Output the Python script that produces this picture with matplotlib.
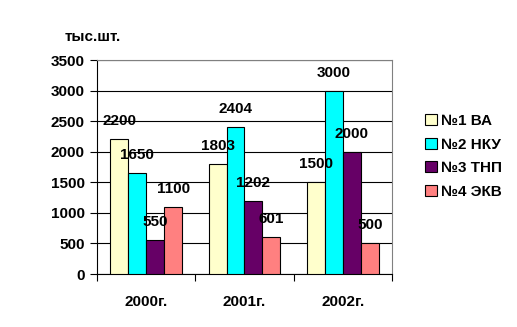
import numpy as np
import matplotlib.pyplot as plt

years = ['2000г.', '2001г.', '2002г.']
series = ['№1 ВА', '№2 НКУ', '№3 ТНП', '№4 ЭКВ']
va = [2200, 1803, 1500]
nku = [1650, 2404, 3000]
tnp = [550, 1202, 2000]
ekv = [1100, 601, 500]
colors = ['#FFFFCC', '#00FFFF', '#660066', '#FF8080']

plt.rcParams['font.family'] = ['Liberation Sans', 'DejaVu Sans']
plt.rcParams['font.weight'] = 'bold'
fs = 11

fig = plt.figure(figsize=(5.17, 3.27), dpi=100)
ax = fig.add_axes([97 / 517, 1 - 274 / 327, 295 / 517, 214 / 327])

x = np.arange(len(years))
w = 0.183
for i, (vals, name) in enumerate(zip([va, nku, tnp, ekv], series)):
    pos = x + (i - 1.5) * w
    ax.bar(pos, vals, w, color=colors[i], edgecolor='black', linewidth=0.8,
           label=name, zorder=3)
    for p, v in zip(pos, vals):
        ax.annotate(str(v), (p, v), xytext=(0, 18), textcoords='offset pixels',
                    ha='center', va='center', fontsize=fs, fontweight='bold',
                    zorder=5)

ax.set_xlim(-0.5, 2.5)
ax.set_ylim(0, 3500)
ax.set_yticks(range(0, 3501, 500))
ax.yaxis.grid(True, color='black', linewidth=0.8, zorder=0)
ax.set_xticks(x)
ax.set_xticklabels(years, fontsize=fs, fontweight='bold')
ax.tick_params(axis='x', length=0, pad=15)
ax.set_xticks([-0.5, 0.5, 1.5, 2.5], minor=True)
ax.tick_params(axis='x', which='minor', length=5, direction='out', width=0.8)
ax.tick_params(axis='y', length=5, direction='out', width=0.8, labelsize=fs, pad=4)
for lab in ax.get_yticklabels():
    lab.set_fontweight('bold')
ax.spines['top'].set_color('#808080')
ax.spines['right'].set_color('#808080')
ax.spines['left'].set_linewidth(0.8)
ax.spines['bottom'].set_linewidth(0.8)

fig.text(93 / 517, 1 - 37 / 327, 'тыс.шт.', ha='center', va='center',
         fontsize=fs, fontweight='bold')

leg = fig.legend(loc='upper left', bbox_to_anchor=(419 / 517, 1 - 108 / 327),
                 frameon=False, fontsize=fs, handlelength=0.75, handleheight=0.75,
                 handletextpad=0.3, labelspacing=0.62, borderaxespad=0)
for t in leg.get_texts():
    t.set_fontweight('bold')

fig.savefig('out.png', dpi=100)
